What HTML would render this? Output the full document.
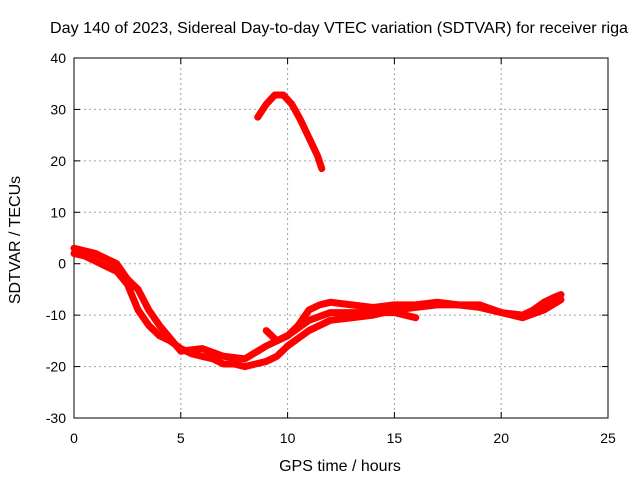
<!DOCTYPE html>
<html><head><meta charset="utf-8"><style>body{margin:0;background:#fff}svg{display:block;font-family:"Liberation Sans",sans-serif}</style></head>
<body>
<svg id="c" width="640" height="480"></svg>
<script>
const xTicks=[0,5,10,15,20,25];
const yTicks=[40,30,20,10,0,-10,-20,-30];
const trackAHours=[0,0.5,1,1.5,2,2.5,3,3.5,4,4.5,5,5.5,6,6.5,7,7.5,8,8.5,9,9.5,10,10.5,11,11.5,12,13,14,15,16,17,18,19,20,21,21.5,22,22.5,22.8];
const trackAValues=[2,1.5,0.5,-0.5,-1.5,-4,-9,-12,-14,-15,-16.5,-17.5,-18,-18.5,-19.5,-19.5,-20,-19.5,-19,-18,-16,-14.5,-13,-12,-11,-10.5,-10,-9,-8.5,-8,-8,-8.5,-9.5,-10,-9,-7.5,-6.5,-6];
const trackBHours=[0,1,2,2.5,3,3.5,4,4.5,5,6,7,8,9,10,10.5,11,11.5,12,13,14,15,16,17,18,19,20,21,22,22.8];
const trackBValues=[3,2,0,-3,-5,-9,-12,-14.5,-17,-16.5,-18,-18.5,-16,-14,-12,-9,-8,-7.5,-8,-8.5,-8,-8,-7.5,-8,-8,-9.5,-10.5,-9,-7];
const trackCHours=[9,9.5,10,11,12,14,15,16];
const trackCValues=[-13,-15,-14,-11,-9.5,-9.5,-9.5,-10.5];
const arcHours=[8.6,9,9.4,9.8,10.2,10.6,11,11.4,11.6];
const arcValues=[28.5,31,32.8,32.8,31,28,24.5,21,18.5];
const X0=74,X1=608,Y0=58,Y1=418;
const sx=h=>X0+(h-0)/25*(X1-X0);
const sy=v=>Y0+(40-v)/70*(Y1-Y0);
const svg=document.getElementById('c');const NS='http://www.w3.org/2000/svg';
function mk(t,a,p){const e=document.createElementNS(NS,t);for(const k in a)e.setAttribute(k,a[k]);(p||svg).appendChild(e);return e;}
xTicks.forEach(t=>{const x=sx(t);
 if(t>0&&t<25){const g=mk('line',{x1:x,x2:x,y1:Y0,y2:Y1,stroke:'#a0a0a0','stroke-dasharray':'2,3'});}
 mk('line',{x1:x,x2:x,y1:Y1,y2:Y1-6,stroke:'#000'});mk('line',{x1:x,x2:x,y1:Y0,y2:Y0+6,stroke:'#000'});
 const l=mk('text',{x:x,y:Y1+25,'text-anchor':'middle','font-size':14});l.textContent=t;
 });
yTicks.forEach(t=>{const y=sy(t);
 if(t<40&&t>-30){const g=mk('line',{x1:X0,x2:X1,y1:y,y2:y,stroke:'#a0a0a0','stroke-dasharray':'2,3'});}
 mk('line',{x1:X0,x2:X0+6,y1:y,y2:y,stroke:'#000'});mk('line',{x1:X1,x2:X1-6,y1:y,y2:y,stroke:'#000'});
 const l=mk('text',{x:X0-8,y:y+5,'text-anchor':'end','font-size':14});l.textContent=t;
 });
const fr=mk('rect',{x:X0,y:Y0,width:X1-X0,height:Y1-Y0,fill:'none',stroke:'#000'});

function series(hs,vs,name){const p=mk('polyline',{points:hs.map((h,i)=>sx(h)+','+sy(vs[i])).join(' '),fill:'none',stroke:'#ff0000','stroke-width':7,'stroke-linejoin':'round','stroke-linecap':'round'});
 }
series(trackAHours,trackAValues,'sdtvar-track-a');
series(trackBHours,trackBValues,'sdtvar-track-b');
series(trackCHours,trackCValues,'sdtvar-track-c');
series(arcHours,arcValues,'sdtvar-arc');
let t=mk('text',{x:50,y:33,'font-size':16,textLength:578,lengthAdjust:'spacingAndGlyphs'});t.textContent='Day 140 of 2023, Sidereal Day-to-day VTEC variation (SDTVAR) for receiver riga';

t=mk('text',{x:340,y:471,'text-anchor':'middle','font-size':16});t.textContent='GPS time / hours';

t=mk('text',{x:0,y:0,'text-anchor':'middle','font-size':16,transform:'translate(20,240) rotate(-90)'});t.textContent='SDTVAR / TECUs';

</script>
</body></html>
